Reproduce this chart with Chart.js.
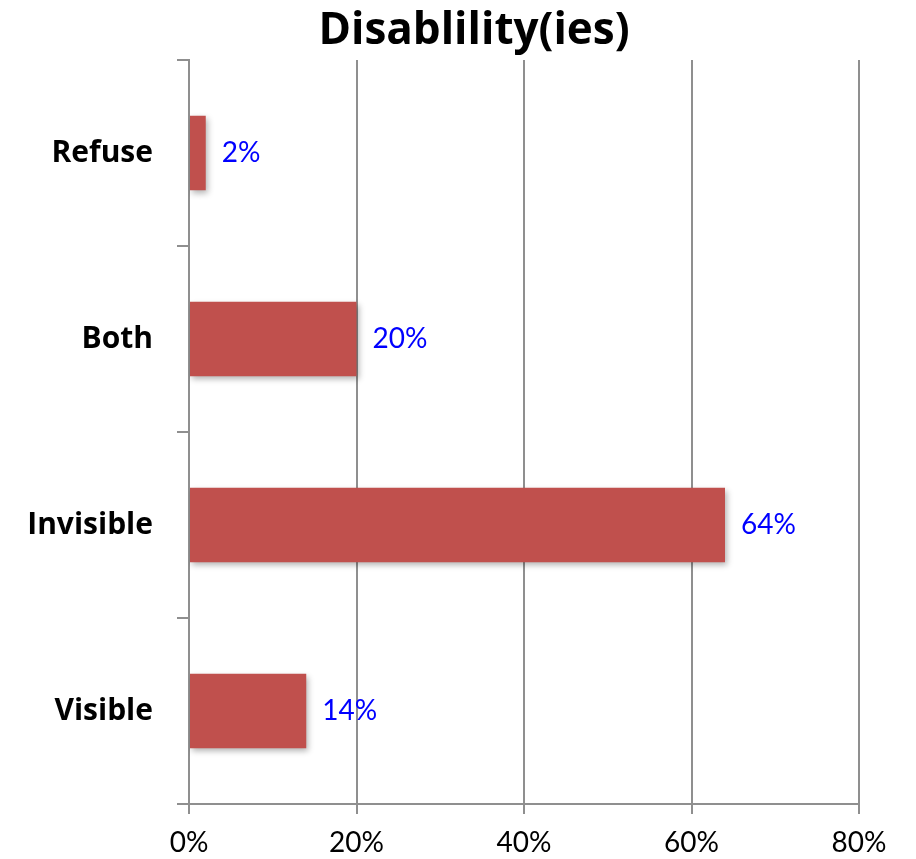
<!DOCTYPE html>
<html>
<head>
  <title>Disablility(ies)</title>
  <script src="https://cdn.jsdelivr.net/npm/chart.js@4.4.1/dist/chart.umd.min.js"></script>
  <style>
    html, body { margin: 0; padding: 0; background: #fff; }
    .chart-container { position: relative; width: 916px; height: 859px; }
  </style>
</head>
<body>
  <div class="chart-container"><canvas id="disability-chart"></canvas></div>
  <script>
    // Responses, top to bottom
    const categories = ['Refuse', 'Both', 'Invisible', 'Visible'];
    const percentages = [2, 20, 64, 14];
    const xTicks = [0, 20, 40, 60, 80];
    const chartTitle = 'Disablility(ies)';

    const FONT = 'Lato, "Open Sans", sans-serif';
    const BOLD_FONT = '"Open Sans", Lato, sans-serif';
    const GRID = '#8f8f8f';

    // title sits a little left of the plot centre, above the grid
    const titleText = {
      id: 'titleText',
      afterDraw(chart) {
        const ctx = chart.ctx;
        ctx.save();
        ctx.fillStyle = '#000';
        ctx.font = 'bold 44px ' + BOLD_FONT;
        ctx.textAlign = 'center';
        ctx.textBaseline = 'alphabetic';
        ctx.fillText(chartTitle, 474, 44);
        ctx.restore();
      }
    };

    // soft drop shadow under the bars
    const barShadow = {
      id: 'barShadow',
      beforeDatasetDraw(chart) {
        const ctx = chart.ctx;
        ctx.save();
        ctx.shadowColor = 'rgba(0,0,0,0.3)';
        ctx.shadowBlur = 6;
        ctx.shadowOffsetX = 2;
        ctx.shadowOffsetY = 3;
      },
      afterDatasetDraw(chart) {
        chart.ctx.restore();
      }
    };

    // value labels to the right of each bar
    const valueLabels = {
      id: 'valueLabels',
      afterDatasetsDraw(chart) {
        const ctx = chart.ctx;
        const meta = chart.getDatasetMeta(0);
        ctx.save();
        ctx.fillStyle = '#0000ff';
        ctx.font = '28px ' + FONT;
        ctx.textAlign = 'left';
        ctx.textBaseline = 'middle';
        meta.data.forEach((bar, i) => {
          ctx.fillText(percentages[i] + '%', bar.x + 16, bar.y);
        });
        ctx.restore();
      }
    };

    new Chart(document.getElementById('disability-chart').getContext('2d'), {
      type: 'bar',
      data: {
        labels: categories,
        datasets: [{
          data: percentages,
          backgroundColor: '#c0504d',
          borderWidth: 0,
          barPercentage: 0.8,
          categoryPercentage: 0.5
        }]
      },
      options: {
        indexAxis: 'y',
        responsive: true,
        maintainAspectRatio: false,
        animation: false,
        layout: { padding: { left: 0, right: 57, top: 60, bottom: 0 } },
        plugins: {
          legend: { display: false },
          tooltip: { enabled: false },
          title: { display: false }
        },
        scales: {
          x: {
            min: 0,
            max: 80,
            afterBuildTicks(scale) {
              scale.ticks = xTicks.map(v => ({ value: v }));
            },
            afterFit(scale) { scale.height = 55; },
            ticks: {
              color: '#000',
              font: { family: FONT, size: 28 },
              padding: 12,
              callback: v => v + '%'
            },
            grid: { color: GRID, lineWidth: 2, tickLength: 10 },
            border: { display: true, color: GRID, width: 2 }
          },
          y: {
            afterFit(scale) { scale.width = 189; },
            ticks: {
              color: '#000',
              font: { family: BOLD_FONT, size: 30, weight: 'bold' },
              padding: 24
            },
            grid: { drawOnChartArea: false, color: GRID, lineWidth: 2, tickLength: 12 },
            border: { display: true, color: GRID, width: 2 }
          }
        }
      },
      plugins: [barShadow, valueLabels, titleText]
    });
  </script>
</body>
</html>
